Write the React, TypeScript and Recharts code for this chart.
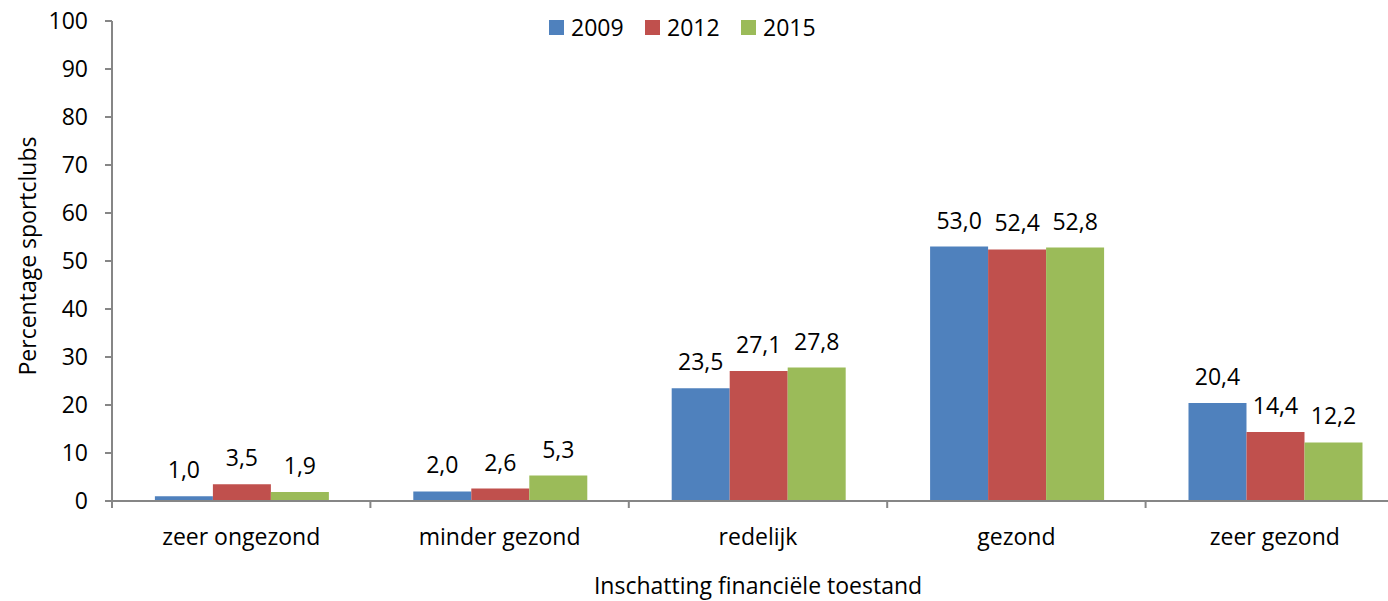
import { BarChart, Bar, XAxis, YAxis, Legend, LabelList, Label } from 'recharts';

const categories = ['zeer ongezond', 'minder gezond', 'redelijk', 'gezond', 'zeer gezond'];
const values2009 = [1.0, 2.0, 23.5, 53.0, 20.4];
const values2012 = [3.5, 2.6, 27.1, 52.4, 14.4];
const values2015 = [1.9, 5.3, 27.8, 52.8, 12.2];
const yTicks = [0, 10, 20, 30, 40, 50, 60, 70, 80, 90, 100];

const SERIES = [
  { key: 'y2009', name: '2009', color: '#4F81BD' },
  { key: 'y2012', name: '2012', color: '#C0504D' },
  { key: 'y2015', name: '2015', color: '#9BBB59' },
];

const data = categories.map((name, i) => ({
  name,
  y2009: values2009[i],
  y2012: values2012[i],
  y2015: values2015[i],
}));

const FONT = '"Open Sans", sans-serif';
const FS = 23;
const AXIS_COLOR = '#868686';
const PLOT_LEFT = 112;
const PLOT_RIGHT = 1404;
const BAND = (PLOT_RIGHT - PLOT_LEFT) / categories.length;

const fmt = (v: any) => Number(v).toFixed(1).replace('.', ',');

function CategoryTick(props: any) {
  const { x, y, payload } = props;
  const left = x - BAND / 2;
  return (
    <g>
      <line x1={left} y1={y} x2={left} y2={y + 7} stroke={AXIS_COLOR} strokeWidth={2} />
      <text x={x} y={y + 44} textAnchor="middle" fontSize={FS} fontFamily={FONT} fill="#000">
        {payload.value}
      </text>
    </g>
  );
}

function LegendContent() {
  return (
    <div style={{ display: 'flex', alignItems: 'center', fontFamily: FONT, fontSize: FS, color: '#000' }}>
      {SERIES.map((s) => (
        <div key={s.key} style={{ display: 'flex', alignItems: 'center', width: 96 }}>
          <div style={{ width: 15, height: 15, background: s.color, marginRight: 7 }} />
          <span style={{ lineHeight: '23px' }}>{s.name}</span>
        </div>
      ))}
    </div>
  );
}

export default function App() {
  return (
    <div
      style={{
        position: 'absolute',
        left: 0,
        top: 0,
        width: 1388,
        height: 601,
        overflow: 'hidden',
        background: '#fff',
      }}
    >
      <BarChart
        width={1420}
        height={601}
        data={data}
        margin={{ top: 21, right: 16, bottom: 0, left: 0 }}
        barCategoryGap="16.6%"
        barGap={0}
      >
        <XAxis
          dataKey="name"
          height={100}
          tickLine={false}
          tickSize={0}
          tickMargin={0}
          axisLine={{ stroke: AXIS_COLOR, strokeWidth: 2 }}
          tick={<CategoryTick />}
          interval={0}
        >
          <Label
            value="Inschatting financiële toestand"
            position="insideBottom"
            offset={7}
            style={{ fontSize: FS, fontFamily: FONT, fill: '#000' }}
          />
        </XAxis>
        <YAxis
          width={PLOT_LEFT}
          domain={[0, 100]}
          ticks={yTicks}
          interval={0}
          tickSize={7}
          tickMargin={17}
          tickLine={{ stroke: AXIS_COLOR, strokeWidth: 2 }}
          axisLine={{ stroke: AXIS_COLOR, strokeWidth: 2 }}
          tick={{ fontSize: FS, fontFamily: FONT, fill: '#000' }}
        >
          <Label
            content={(p: any) => {
              const vb = p.viewBox;
              const cy = vb.y + vb.height / 2 - 5;
              return (
                <text
                  x={27}
                  y={cy}
                  transform={`rotate(-90 27 ${cy})`}
                  textAnchor="middle"
                  dominantBaseline="central"
                  fontSize={FS}
                  fontFamily={FONT}
                  fill="#000"
                >
                  Percentage sportclubs
                </text>
              );
            }}
          />
        </YAxis>
        <Legend
          verticalAlign="middle"
          align="center"
          content={<LegendContent />}
          wrapperStyle={{ position: 'absolute', top: 16, left: 549, width: 'auto' }}
        />
        {SERIES.map((s) => (
          <Bar key={s.key} dataKey={s.key} name={s.name} fill={s.color} isAnimationActive={false}>
            <LabelList
              dataKey={s.key}
              position="top"
              offset={18}
              formatter={fmt}
              style={{ fontSize: FS, fontFamily: FONT, fill: '#000' }}
            />
          </Bar>
        ))}
      </BarChart>
    </div>
  );
}
